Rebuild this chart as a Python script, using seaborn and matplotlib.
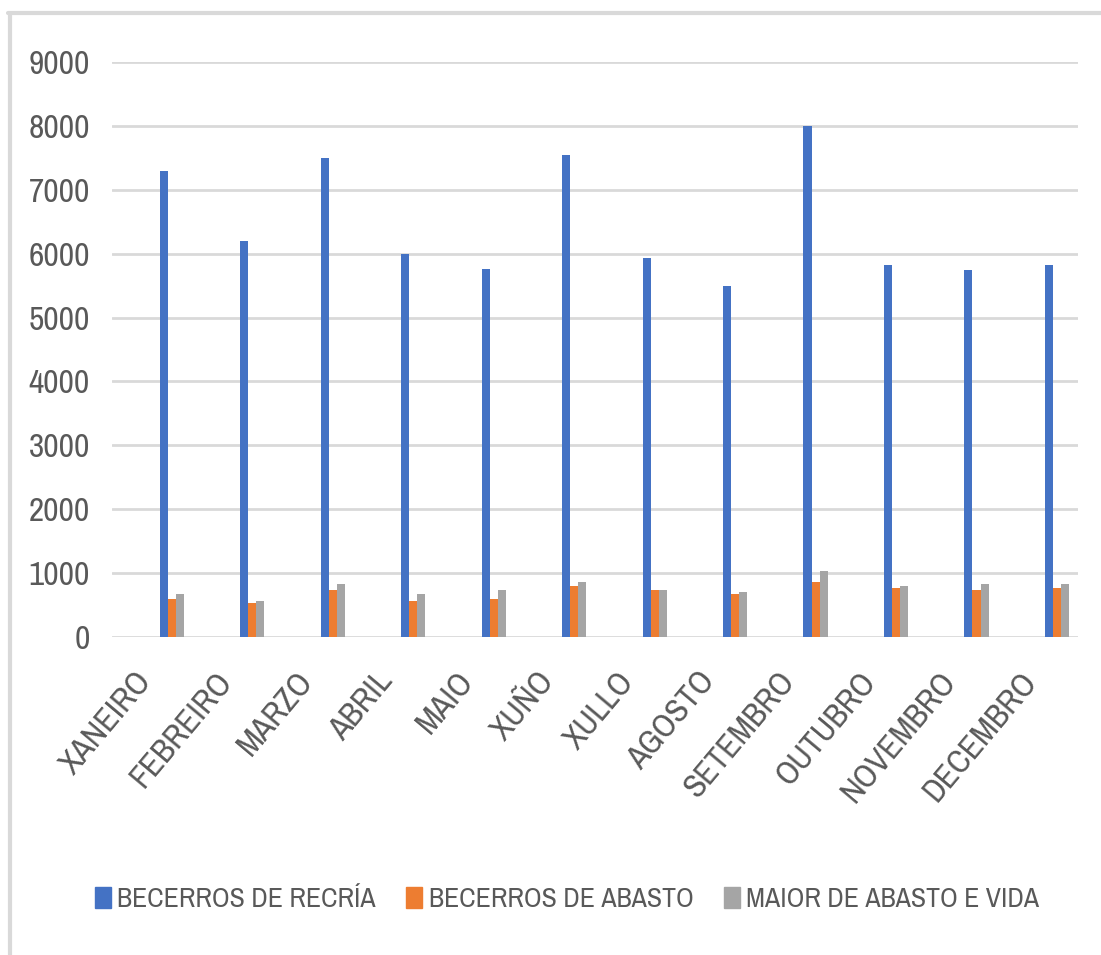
import seaborn as sns
import matplotlib.pyplot as plt
import matplotlib.patches as mpatches
import matplotlib.lines as mlines
import matplotlib.transforms as mtransforms
from matplotlib import font_manager as fm
import pandas as pd

# Monthly values
months = ["XANEIRO", "FEBREIRO", "MARZO", "ABRIL", "MAIO", "XUÑO",
          "XULLO", "AGOSTO", "SETEMBRO", "OUTUBRO", "NOVEMBRO", "DECEMBRO"]
recria = [7300, 6200, 7500, 6000, 5760, 7540, 5930, 5490, 8000, 5820, 5740, 5820]
abasto = [595, 537, 732, 568, 600, 800, 732, 668, 868, 768, 732, 768]
maior = [668, 563, 837, 668, 732, 863, 732, 700, 1032, 800, 837, 837]

series = ["BECERROS DE RECRÍA", "BECERROS DE ABASTO", "MAIOR DE ABASTO E VIDA"]
colors = ["#4472C4", "#ED7D31", "#A5A5A5"]

rows = []
for name, vals in zip(series, [recria, abasto, maior]):
    for i, v in enumerate(vals):
        rows.append({"pos": i + 0.24, "value": v, "series": name})
df = pd.DataFrame(rows)

sns.set_style("white")

# pick a narrow font if there is one
fonts = fm.fontManager.ttflist
narrow = sorted({f.name for f in fonts if "Narrow" in f.name or "Condensed" in f.name})
stretch = "normal"
fsize = 20
if "Liberation Sans Narrow" in narrow:
    family = "Liberation Sans Narrow"
    fsize = 24
elif narrow:
    family = narrow[0]
    fsize = 24
elif any(f.name == "DejaVu Sans" and f.stretch in ("condensed", "semi-condensed") for f in fonts):
    family = "DejaVu Sans"
    stretch = "condensed"
    fsize = 24
else:
    family = "DejaVu Sans"
plt.rcParams['font.family'] = [family, 'DejaVu Sans']
plt.rcParams['font.stretch'] = stretch

fig = plt.figure(figsize=(11.01, 9.55), dpi=100)
ax = fig.add_axes([0.102, 0.333, 0.877, 0.602])

sns.barplot(data=df, x="pos", y="value", hue="series", hue_order=series,
            palette=colors, native_scale=True, width=0.30, gap=0,
            saturation=1, linewidth=0, ax=ax)

ax.set_xlim(-0.5, 11.5)
ax.set_ylim(0, 9000)
ax.set_yticks(range(0, 9001, 1000))
ax.set_xticks(range(len(months)))
ax.set_xticklabels(months, rotation=50, ha="right", rotation_mode="anchor")
ax.tick_params(axis="both", labelsize=fsize, labelcolor="#595959", length=0)
ax.tick_params(axis="x", pad=14)
ax.tick_params(axis="y", pad=16)
# nudge the month labels left/down like the original
shift = mtransforms.ScaledTranslation(-18 / 100, -10 / 100, fig.dpi_scale_trans)
for lab in ax.get_xticklabels():
    lab.set_transform(lab.get_transform() + shift)
ax.yaxis.grid(True, color="#D9D9D9", linewidth=2)
ax.set_axisbelow(True)
for s in ax.spines.values():
    s.set_visible(False)
ax.set_xlabel("")
ax.set_ylabel("")

lsize = fsize * 20 / 24
handles = [mpatches.Patch(color=c) for c in colors]
ax.legend(handles, series, loc="center", bbox_to_anchor=(0.471, -0.457),
          ncol=3, frameon=False, fontsize=lsize, labelcolor="#595959",
          handlelength=0.58, handleheight=0.8, handletextpad=0.22,
          columnspacing=1.1)

# chart border (top and left edges only)
fig.add_artist(mlines.Line2D([8 / 1101, 1], [1 - 13 / 955, 1 - 13 / 955],
                             color="#D9D9D9", linewidth=3))
fig.add_artist(mlines.Line2D([10 / 1101, 10 / 1101], [0, 1 - 13 / 955],
                             color="#D9D9D9", linewidth=3))

fig.savefig("out.png", dpi=100)
